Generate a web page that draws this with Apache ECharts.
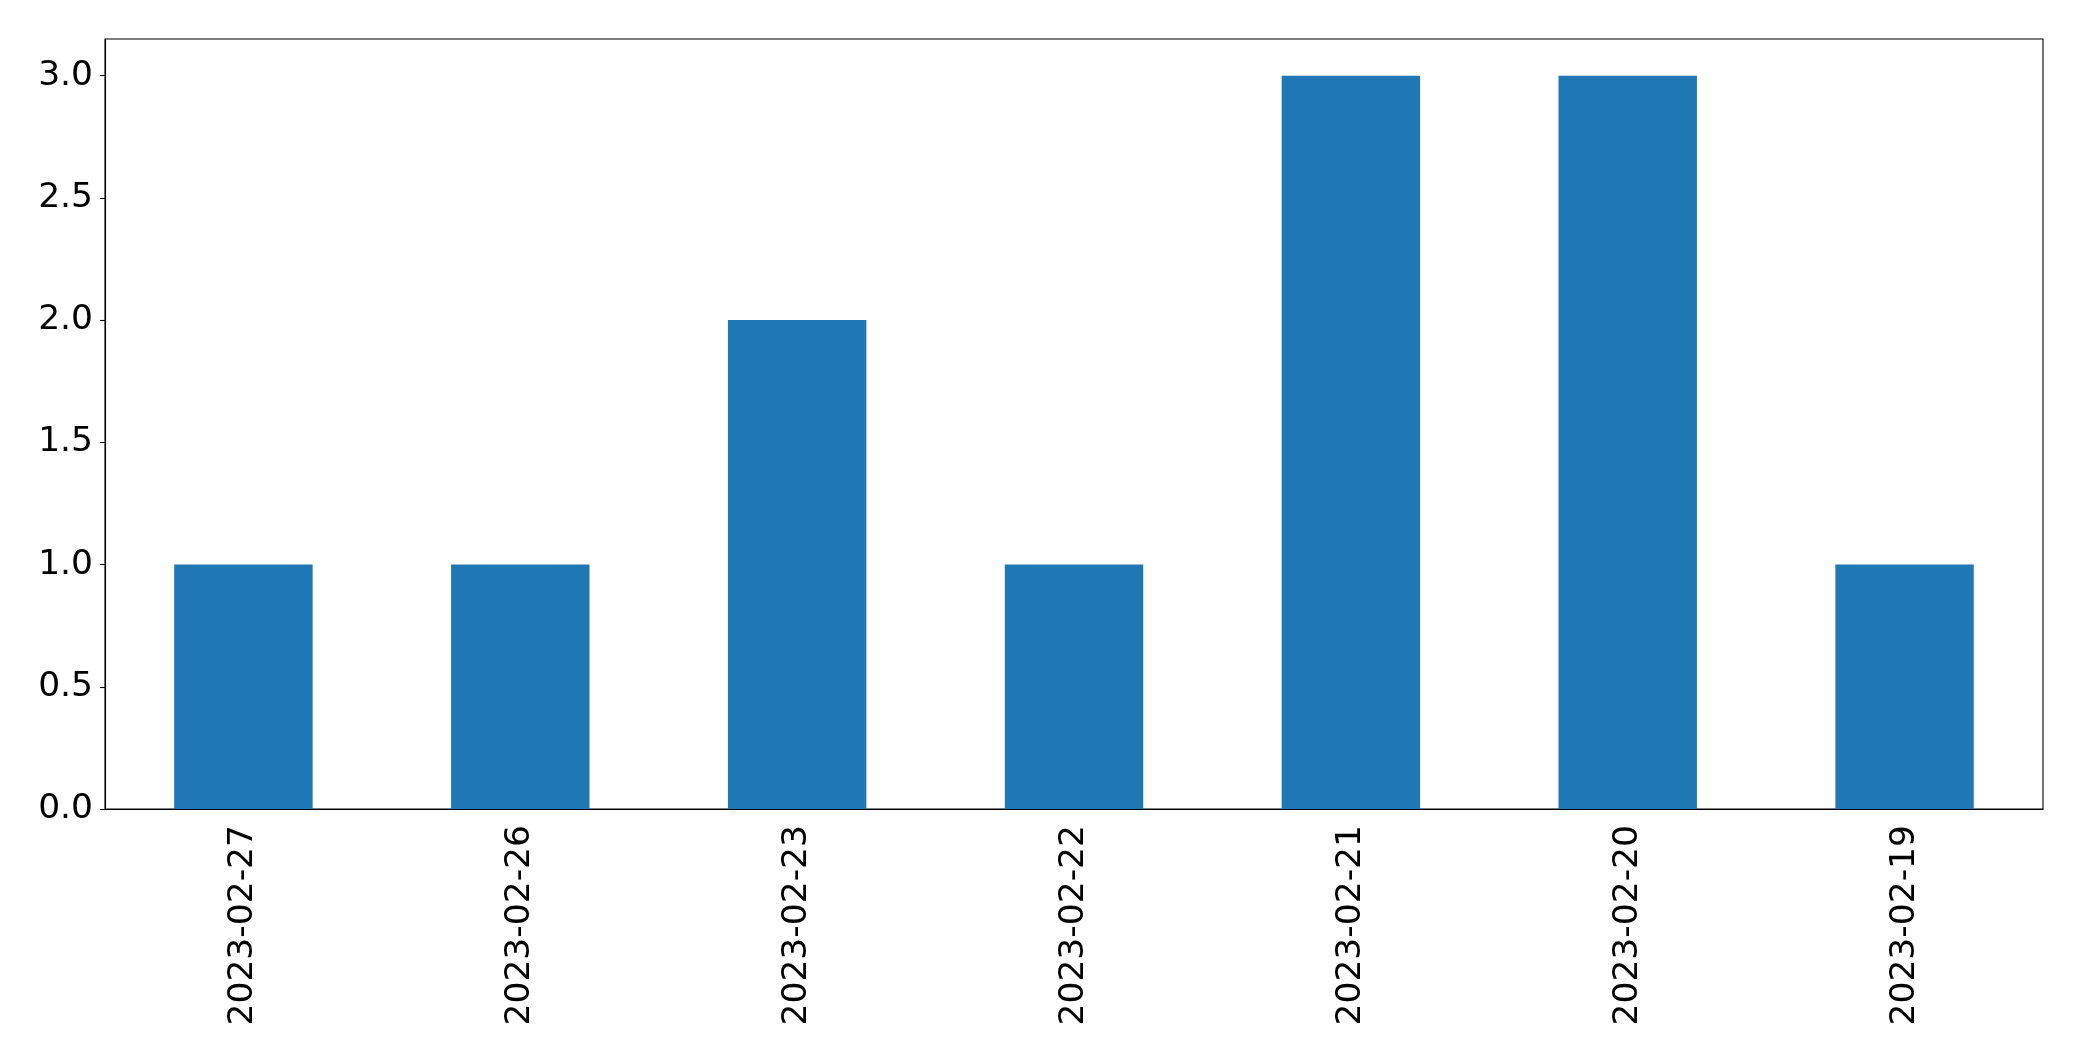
<!DOCTYPE html>
<html>
<head>
<meta charset="utf-8">
<script src="https://cdn.jsdelivr.net/npm/echarts@6/dist/echarts.min.js"></script>
<style>
html,body{margin:0;padding:0;background:#fff;}
#chart{width:2082px;height:1061px;}
</style>
</head>
<body>
<div id="chart"></div>
<script>
const categories = ['2023-02-27','2023-02-26','2023-02-23','2023-02-22','2023-02-21','2023-02-20','2023-02-19'];
const values = [1, 1, 2, 1, 3, 3, 1];
const yTicks = [0, 0.5, 1.0, 1.5, 2.0, 2.5, 3.0];

const chart = echarts.init(document.getElementById('chart'), null, {renderer: 'canvas'});
const font = 'DejaVu Sans';
chart.setOption({
  animation: false,
  backgroundColor: '#ffffff',
  grid: {left: 105, right: 39, top: 39, bottom: 252, show: true, borderColor: '#000', borderWidth: 1.1, backgroundColor: 'transparent'},
  xAxis: {
    type: 'category',
    data: categories,
    axisLine: {lineStyle: {color: '#000', width: 1.1}},
    axisTick: {alignWithLabel: true, length: 5, lineStyle: {color: '#000', width: 1.1}},
    axisLabel: {rotate: 90, margin: 16, fontSize: 34.5, fontFamily: font, color: '#000'},
    splitLine: {show: false}
  },
  yAxis: {
    type: 'value',
    min: 0,
    max: 3.15,
    interval: 0.5,
    axisLine: {show: true, lineStyle: {color: '#000', width: 1.1}},
    axisTick: {show: true, length: 5, customValues: yTicks, lineStyle: {color: '#000', width: 1.1}},
    axisLabel: {margin: 12, fontSize: 34.5, fontFamily: font, color: '#000', customValues: yTicks,
      formatter: function (v) { return Number(v).toFixed(1); }},
    splitLine: {show: false}
  },
  series: [{
    type: 'bar',
    data: values,
    barWidth: '50%',
    itemStyle: {color: '#1f77b4'}
  }]
});
</script>
</body>
</html>
